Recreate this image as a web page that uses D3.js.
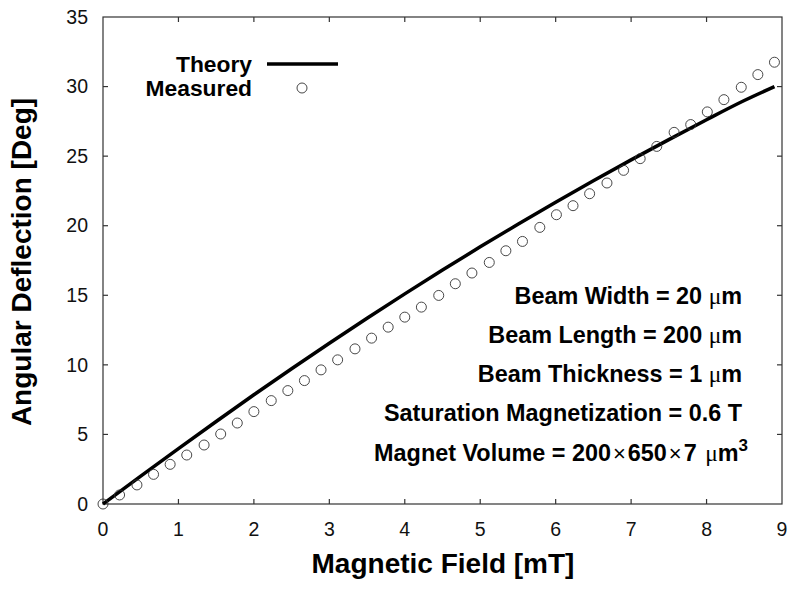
<!DOCTYPE html>
<html><head><meta charset="utf-8">
<script src="https://cdn.jsdelivr.net/npm/d3@7"></script>
<style>body{margin:0;background:#fff}svg{display:block}text{font-family:Arial,"Liberation Sans",sans-serif}</style>
</head><body>
<svg id="c" width="800" height="589"></svg>
<script>
const measuredX = [0,0.22,0.45,0.67,0.89,1.11,1.34,1.56,1.78,2.0,2.23,2.45,2.67,2.89,3.11,3.34,3.56,3.78,4.0,4.22,4.45,4.67,4.89,5.12,5.34,5.56,5.79,6.01,6.23,6.45,6.68,6.9,7.12,7.34,7.57,7.79,8.01,8.23,8.46,8.68,8.9];
const measuredY = [0,0.65,1.37,2.13,2.85,3.52,4.24,5.03,5.82,6.64,7.43,8.15,8.87,9.64,10.36,11.15,11.92,12.71,13.43,14.15,14.99,15.83,16.6,17.36,18.2,18.87,19.88,20.79,21.44,22.3,23.07,23.98,24.82,25.7,26.71,27.27,28.18,29.06,29.95,30.86,31.75];
const theoryX = [0,0.5,1,1.5,2,2.5,3,3.5,4,4.5,5,5.5,6,6.5,7,7.5,8,8.5,8.9];
const theoryY = [0,2.0,3.98,5.93,7.85,9.72,11.55,13.35,15.1,16.81,18.48,20.1,21.68,23.23,24.73,26.19,27.62,29.0,30.0];
const xTicks = [0,1,2,3,4,5,6,7,8,9];
const yTicks = [0,5,10,15,20,25,30,35];
const notes = [["Beam Width = 20 ","m"],["Beam Length = 200 ","m"],["Beam Thickness = 1 ","m"],["Saturation Magnetization = 0.6 T",""]];
const legendLabels = ["Theory","Measured"];

const svg = d3.select("#c");
const L=103, R=782, T=17, B=504;
const x = d3.scaleLinear().domain([0,9]).range([L,R]);
const y = d3.scaleLinear().domain([0,35]).range([B,T]);
const axisColor = "#333";

// frame
svg.append("rect").attr("x",L).attr("y",T).attr("width",R-L).attr("height",B-T)
  .attr("fill","none").attr("stroke",axisColor).attr("stroke-width",1.2);

// ticks (inward)
const tl=5;
const g = svg.append("g").attr("stroke",axisColor).attr("stroke-width",1.2);
xTicks.slice(1,-1).forEach(t=>{
  g.append("line").attr("x1",x(t)).attr("x2",x(t)).attr("y1",B).attr("y2",B-tl);
  g.append("line").attr("x1",x(t)).attr("x2",x(t)).attr("y1",T).attr("y2",T+tl);
});
yTicks.slice(1,-1).forEach(t=>{
  g.append("line").attr("y1",y(t)).attr("y2",y(t)).attr("x1",L).attr("x2",L+tl);
  g.append("line").attr("y1",y(t)).attr("y2",y(t)).attr("x1",R).attr("x2",R-tl);
});

// tick labels
svg.append("g").selectAll("text").data(xTicks).join("text")
  .attr("x",d=>x(d)).attr("y",536).attr("text-anchor","middle")
  .attr("font-size",19.5).attr("fill","#111").text(d=>d);
svg.append("g").selectAll("text").data(yTicks).join("text")
  .attr("x",88).attr("y",d=>y(d)+6.7).attr("text-anchor","end")
  .attr("font-size",19.5).attr("fill","#111").text(d=>d);

// axis titles
svg.append("text").attr("x",443).attr("y",573).attr("text-anchor","middle")
  .attr("font-size",28).attr("font-weight","bold").text("Magnetic Field [mT]");
svg.append("text").attr("transform","translate(31,262) rotate(-90)").attr("text-anchor","middle")
  .attr("font-size",28).attr("font-weight","bold").text("Angular Deflection [Deg]");

// theory line
const line = d3.line().x((d,i)=>x(theoryX[i])).y(d=>y(d)).curve(d3.curveMonotoneX);
svg.append("path").attr("d",line(theoryY)).attr("fill","none").attr("stroke","#000").attr("stroke-width",3.5);

// measured points
svg.append("g").selectAll("circle").data(measuredY).join("circle")
  .attr("cx",(d,i)=>x(measuredX[i])).attr("cy",d=>y(d)).attr("r",5)
  .attr("fill","none").attr("stroke","#333").attr("stroke-width",0.9);

// legend
svg.append("text").attr("x",252).attr("y",72).attr("text-anchor","end")
  .attr("font-size",22.8).attr("font-weight","bold").text(legendLabels[0]);
svg.append("text").attr("x",252).attr("y",96).attr("text-anchor","end")
  .attr("font-size",22.8).attr("font-weight","bold").text(legendLabels[1]);
svg.append("line").attr("x1",267).attr("x2",338).attr("y1",64).attr("y2",64).attr("stroke","#000").attr("stroke-width",3.5);
svg.append("circle").attr("cx",302).attr("cy",88).attr("r",5).attr("fill","none").attr("stroke","#333").attr("stroke-width",0.9);

// notes
const noteY=[304,343,382,421];
notes.forEach((n,i)=>{
  const t = svg.append("text").attr("x",742).attr("y",noteY[i]).attr("text-anchor","end")
    .attr("font-size",23.4).attr("font-weight","bold");
  t.append("tspan").text(n[0]);
  if(n[1]){
    t.append("tspan").attr("font-family","'Liberation Serif',serif").attr("font-weight","normal").text("\u03bc");
    t.append("tspan").text(n[1]);
  }
});
const mv = svg.append("text").attr("x",748).attr("y",461).attr("text-anchor","end")
  .attr("font-size",23.4).attr("font-weight","bold");
mv.append("tspan").text("Magnet Volume = 200");
mv.append("tspan").attr("dx",2).attr("font-weight","normal").attr("font-size",22).text("\u00d7");
mv.append("tspan").attr("dx",2).text("650");
mv.append("tspan").attr("dx",2).attr("font-weight","normal").attr("font-size",22).text("\u00d7");
mv.append("tspan").attr("dx",2).text("7 ");
mv.append("tspan").attr("dx",2).attr("font-family","'Liberation Serif',serif").attr("font-weight","normal").text("\u03bc");
mv.append("tspan").text("m");
mv.append("tspan").attr("dy",-10).attr("font-size",17).text("3");
</script>
</body></html>
